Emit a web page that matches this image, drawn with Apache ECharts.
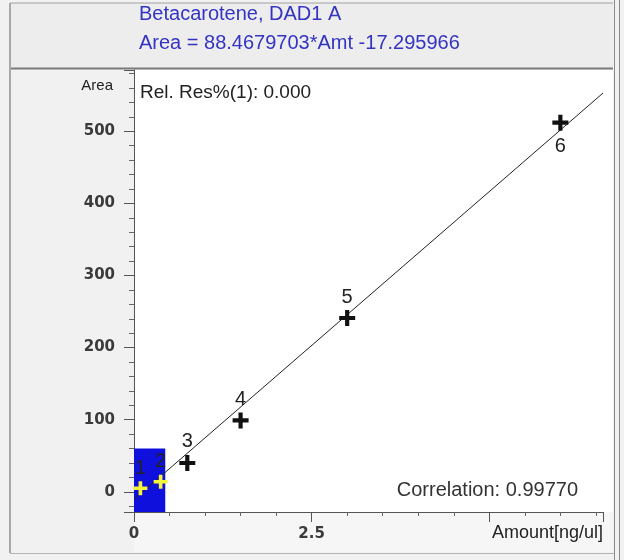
<!DOCTYPE html>
<html>
<head>
<meta charset="utf-8">
<script src="https://cdn.jsdelivr.net/npm/echarts@6/dist/echarts.min.js"></script>
<style>
  html, body { margin: 0; padding: 0; background: #f1f1f1; }
  #chart { width: 624px; height: 560px; }
</style>
</head>
<body>
<div id="chart"></div>
<script>
  // calibration levels
  var amounts = [0.09, 0.375, 0.75, 1.5, 3, 6];
  var areas = [5, 14, 40, 99, 241, 512];
  var levelNames = ['1', '2', '3', '4', '5', '6'];
  // fitted line, two ends as drawn
  var fitAmounts = [0, 6.6];
  var fitAreas = [-10.5, 553];
  // blue zoom box in the lower left corner
  var boxAmounts = [0, 0.44];
  var boxAreas = [-28, 60];
  // tick labels
  var xTickLabels = [0, 2.5];
  var yTickLabels = [0, 100, 200, 300, 400, 500];

  var titleLines = ['Betacarotene, DAD1 A', 'Area = 88.4679703*Amt -17.295966'];
  var relResText = 'Rel. Res%(1): 0.000';
  var corrText = 'Correlation: 0.99770';

  var FONT = '"Liberation Sans", Arial, sans-serif';
  var TICKFONT = '"DejaVu Sans", sans-serif';
  var CROSS = 'path://M3.7,0H6.3V3.7H10V6.3H6.3V10H3.7V6.3H0V3.7H3.7Z';

  var pts = amounts.map(function (a, i) {
    var low = i < 2;
    return {
      value: [a, areas[i]],
      name: levelNames[i],
      symbolSize: low ? 14 : 16,
      itemStyle: { color: low ? '#f4f43a' : '#111', opacity: 1 },
      label: i === amounts.length - 1
        ? { position: 'bottom', distance: 6 }
        : { position: 'top', distance: 3 }
    };
  });
  var fitLine = fitAmounts.map(function (a, i) { return [a, fitAreas[i]]; });

  var myChart = echarts.init(document.getElementById('chart'));
  myChart.setOption({
    backgroundColor: '#f1f1f1',
    animation: false,
    grid: { left: 134, right: 21, top: 70, bottom: 48 },
    xAxis: {
      type: 'value',
      min: 0,
      max: 6.6,
      splitNumber: 3,
      minInterval: 2.5,
      maxInterval: 2.5,
      axisLine: { show: true, onZero: false, lineStyle: { color: '#555' } },
      axisTick: { show: true, length: 10, lineStyle: { color: '#555' } },
      minorTick: { show: true, splitNumber: 5, length: 4, lineStyle: { color: '#666' } },
      splitLine: { show: false },
      axisLabel: {
        margin: 15, fontSize: 15, fontWeight: 'bold', color: '#3a3a3a', fontFamily: TICKFONT,
        formatter: function (v) { return xTickLabels.indexOf(v) >= 0 ? String(v) : ''; }
      }
    },
    yAxis: {
      type: 'value',
      min: -28,
      max: 585,
      splitNumber: 6,
      minInterval: 100,
      maxInterval: 100,
      axisLine: { show: true, onZero: false, lineStyle: { color: '#555' } },
      axisTick: { show: true, length: 10, lineStyle: { color: '#555' } },
      minorTick: { show: true, splitNumber: 5, length: 5, lineStyle: { color: '#666' } },
      splitLine: { show: false },
      axisLabel: {
        margin: 19, fontSize: 15, fontWeight: 'bold', color: '#3a3a3a', fontFamily: TICKFONT,
        formatter: function (v) { return yTickLabels.indexOf(v) >= 0 ? String(v) : ''; }
      }
    },
    series: [
      {
        name: 'fit',
        type: 'line',
        z: 2,
        data: fitLine,
        symbol: 'none',
        lineStyle: { color: '#222', width: 1 },
        markArea: {
          silent: true,
          itemStyle: { color: '#1010dc', opacity: 1 },
          data: [[
            { coord: [boxAmounts[0], boxAreas[0]] },
            { coord: [boxAmounts[1], boxAreas[1]] }
          ]]
        }
      },
      {
        name: 'levels',
        type: 'scatter',
        z: 3,
        symbol: CROSS,
        data: pts,
        label: {
          show: true,
          formatter: '{b}',
          fontSize: 20,
          color: '#222',
          fontFamily: FONT
        }
      }
    ],
    graphic: [
      // window frame
      { type: 'rect', z: -1, silent: true, shape: { x: 134, y: 70, width: 479, height: 442 }, style: { fill: '#fff' } },
      { type: 'rect', z: -1, silent: true, shape: { x: 10, y: 3, width: 603, height: 65 }, style: { fill: '#ededed' } },
      { type: 'rect', z: -1, silent: true, shape: { x: 134, y: 512, width: 479, height: 40 }, style: { fill: '#f6f6f6' } },
      { type: 'line', silent: true, shape: { x1: 10, y1: 3, x2: 613, y2: 3 }, style: { stroke: '#a0a0a0', lineWidth: 1 } },
      { type: 'line', silent: true, shape: { x1: 10, y1: 68.5, x2: 613, y2: 68.5 }, style: { stroke: '#7a7a7a', lineWidth: 2 } },
      { type: 'line', silent: true, shape: { x1: 10, y1: 3, x2: 10, y2: 553 }, style: { stroke: '#a8a8a8', lineWidth: 2 } },
      { type: 'line', silent: true, shape: { x1: 614.5, y1: 0, x2: 614.5, y2: 560 }, style: { stroke: '#8a8a8a', lineWidth: 1 } },
      { type: 'line', silent: true, shape: { x1: 619.5, y1: 0, x2: 619.5, y2: 560 }, style: { stroke: '#8a8a8a', lineWidth: 1 } },
      { type: 'line', silent: true, shape: { x1: 10, y1: 553.5, x2: 614, y2: 553.5 }, style: { stroke: '#b5b5b5', lineWidth: 1 } },
      // texts
      { type: 'text', x: 139, y: 14, style: { text: titleLines[0], fill: '#3434c4', fontSize: 20, fontFamily: FONT, textVerticalAlign: 'middle' } },
      { type: 'text', x: 139, y: 43, style: { text: titleLines[1], fill: '#3434c4', fontSize: 20, fontFamily: FONT, textVerticalAlign: 'middle' } },
      { type: 'text', x: 140, y: 93, style: { text: relResText, fill: '#222', fontSize: 19, fontFamily: FONT, textVerticalAlign: 'middle' } },
      { type: 'text', x: 578, y: 490, style: { text: corrText, fill: '#333', fontSize: 20, fontFamily: FONT, textAlign: 'right', textVerticalAlign: 'middle' } },
      { type: 'text', x: 113, y: 86, style: { text: 'Area', fill: '#222', fontSize: 15, fontFamily: FONT, textAlign: 'right', textVerticalAlign: 'middle' } },
      { type: 'text', x: 603, y: 533, style: { text: 'Amount[ng/ul]', fill: '#222', fontSize: 18, fontFamily: FONT, textAlign: 'right', textVerticalAlign: 'middle' } }
    ]
  });
  window.onresize = () => myChart.resize();
</script>
</body>
</html>
